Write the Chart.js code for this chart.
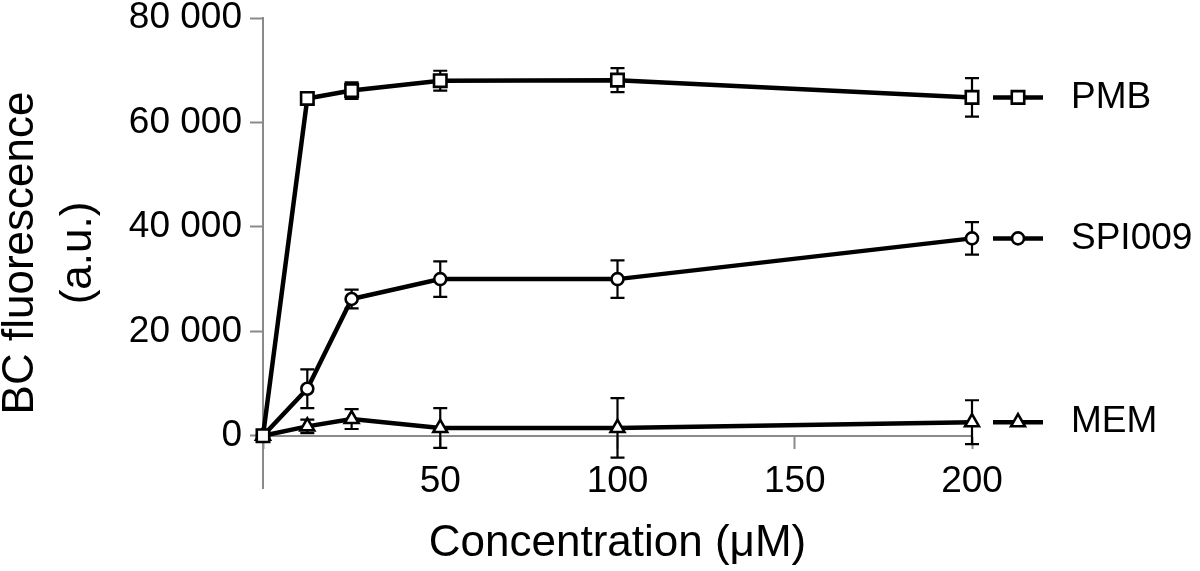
<!DOCTYPE html>
<html>
<head>
<meta charset="utf-8">
<title>BC fluorescence</title>
<script src="https://cdn.jsdelivr.net/npm/chart.js@4"></script>
<style>
  html, body { margin: 0; padding: 0; background: #fff; }
  #wrap { width: 1200px; height: 571px; }
</style>
</head>
<body>
<div id="wrap"><canvas id="myChart"></canvas></div>
<script>
// values (mean and error half-width)
const concentrations = [0, 12.5, 25, 50, 100, 200];
const pmb = [0, 64600, 66100, 68000, 68100, 64800];
const pmbErr = [0, 1200, 1600, 1900, 2300, 3700];
const spi009 = [0, 9000, 26200, 30000, 30000, 37800];
const spi009Err = [0, 3700, 1800, 3400, 3600, 3100];
const mem = [0, 1800, 3200, 1500, 1500, 2600];
const memErr = [0, 1300, 1900, 3800, 5700, 4200];
const xTicks = [0, 50, 100, 150, 200];
const yTicks = [0, 20000, 40000, 60000, 80000];

const FONT = "'Liberation Sans', Arial, Helvetica, sans-serif";
const GRAY = "#8a8a8a";

function toPoints(values) {
  return values.map((v, i) => ({ x: concentrations[i], y: v }));
}

function spaced(v) {
  return String(v).replace(/\B(?=(\d{3})+(?!\d))/g, " ");
}

// error bars drawn under the lines and markers
const errorBars = {
  id: "errorBars",
  beforeDatasetsDraw(chart) {
    const ctx = chart.ctx;
    const xs = chart.scales.x;
    const ys = chart.scales.y;
    ctx.save();
    ctx.strokeStyle = "#000";
    ctx.lineWidth = 2.2;
    chart.data.datasets.forEach((ds) => {
      ds.data.forEach((p, i) => {
        const e = ds.errors[i];
        if (!e) return;
        const px = xs.getPixelForValue(p.x);
        const top = ys.getPixelForValue(p.y + e);
        const bot = ys.getPixelForValue(p.y - e);
        ctx.beginPath();
        ctx.moveTo(px, top);
        ctx.lineTo(px, bot);
        ctx.moveTo(px - 7, top);
        ctx.lineTo(px + 7, top);
        ctx.moveTo(px - 7, bot);
        ctx.lineTo(px + 7, bot);
        ctx.stroke();
      });
    });
    ctx.restore();
  },
};

// series names placed at the level of each series' last point
const endLegend = {
  id: "endLegend",
  afterDatasetsDraw(chart) {
    const ctx = chart.ctx;
    const ys = chart.scales.y;
    const x0 = chart.chartArea.right + 21;
    const x1 = x0 + 50;
    chart.data.datasets.forEach((ds) => {
      const y = ys.getPixelForValue(ds.data[ds.data.length - 1].y);
      ctx.save();
      ctx.strokeStyle = "#000";
      ctx.lineWidth = ds.borderWidth;
      ctx.beginPath();
      ctx.moveTo(x0, y);
      ctx.lineTo(x1, y);
      ctx.stroke();
      ctx.fillStyle = "#fff";
      ctx.lineWidth = ds.pointBorderWidth;
      Chart.helpers.drawPoint(ctx, { pointStyle: ds.pointStyle, radius: ds.pointRadius, borderWidth: ds.pointBorderWidth, rotation: 0 }, (x0 + x1) / 2, y);
      ctx.fillStyle = "#000";
      ctx.font = "37px " + FONT;
      ctx.textAlign = "left";
      ctx.textBaseline = "middle";
      ctx.fillText(ds.label, x1 + 28, y);
      ctx.restore();
    });
  },
};

function series(label, values, errors, style, radius) {
  return {
    label: label,
    data: toPoints(values),
    errors: errors,
    borderColor: "#000",
    borderWidth: 4.5,
    pointStyle: style,
    pointRadius: radius,
    pointHoverRadius: radius,
    pointBackgroundColor: "#fff",
    pointBorderColor: "#000",
    pointBorderWidth: 2.6,
    fill: false,
    tension: 0,
    clip: false,
  };
}

new Chart("myChart", {
  type: "line",
  data: {
    datasets: [
      series("PMB", pmb, pmbErr, "rect", 8.8),
      series("SPI009", spi009, spi009Err, "circle", 6),
      series("MEM", mem, memErr, "triangle", 8),
    ],
  },
  plugins: [errorBars, endLegend],
  options: {
    responsive: true,
    maintainAspectRatio: false,
    animation: false,
    devicePixelRatio: 1,
    layout: {
      padding: { left: 0, right: 228, top: 0, bottom: 83 },
    },
    plugins: {
      legend: { display: false },
      tooltip: { enabled: false },
    },
    scales: {
      x: {
        type: "linear",
        position: { y: 0 },
        min: 0,
        max: 200,
        afterBuildTicks: (s) => {
          s.ticks = xTicks.map((v) => ({ value: v }));
        },
        ticks: {
          callback: (v) => (v === 0 ? "" : v),
          color: "#000",
          font: { size: 37, family: FONT, lineHeight: 1 },
          padding: 16,
          maxRotation: 0,
          autoSkip: false,
        },
        grid: {
          drawOnChartArea: false,
          drawTicks: true,
          tickLength: 12,
          tickColor: GRAY,
          tickWidth: 2,
        },
        border: { color: GRAY, width: 2 },
        title: {
          display: true,
          text: "Concentration (μM)",
          color: "#000",
          font: { size: 44, family: FONT },
          padding: { top: 1, bottom: 0 },
        },
      },
      y: {
        min: -10000,
        max: 80000,
        afterBuildTicks: (s) => {
          s.ticks = yTicks.map((v) => ({ value: v }));
        },
        afterFit: (s) => {
          s.width = 263;
          s.paddingTop = 18;
          s.paddingBottom = 0;
        },
        ticks: {
          callback: (v) => spaced(v),
          color: "#000",
          font: { size: 37, family: FONT, lineHeight: 1 },
          padding: 8,
        },
        grid: {
          drawOnChartArea: false,
          drawTicks: true,
          tickLength: 13,
          tickColor: GRAY,
          tickWidth: 2,
        },
        border: { color: GRAY, width: 2 },
        title: {
          display: true,
          text: ["BC fluorescence", "(a.u.)"],
          color: "#000",
          font: { size: 44, family: FONT, lineHeight: 1.32 },
          padding: { top: -8, bottom: 0 },
        },
      },
    },
  },
});
</script>
</body>
</html>
